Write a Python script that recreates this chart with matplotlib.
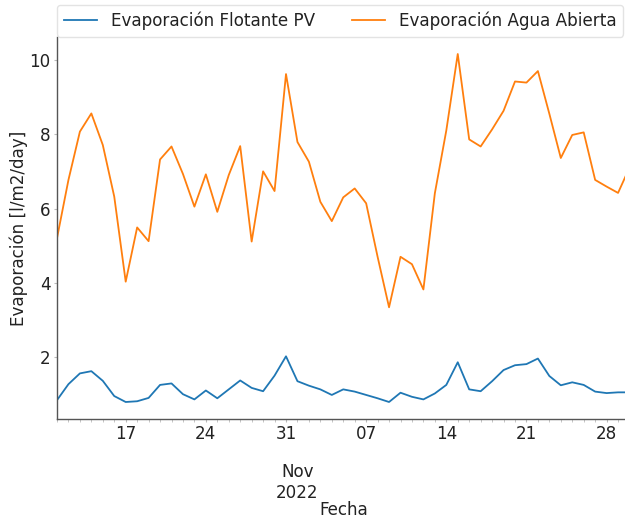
import matplotlib
matplotlib.use("Agg")
import matplotlib.pyplot as plt
import pandas as pd

fechas = pd.date_range("2022-10-11", "2022-11-30", freq="D")

evap_flotante = [0.84, 1.27, 1.56, 1.62, 1.36, 0.95, 0.79, 0.81, 0.90, 1.25, 1.29,
                 1.00, 0.86, 1.10, 0.89, 1.13, 1.37, 1.17, 1.08, 1.50, 2.02,
                 1.35, 1.23, 1.13, 0.98, 1.13, 1.07, 0.98, 0.89, 0.79, 1.04,
                 0.93, 0.86, 1.02, 1.25, 1.86, 1.13, 1.08, 1.35, 1.65, 1.78,
                 1.81, 1.96, 1.49, 1.24, 1.32, 1.25, 1.07, 1.03, 1.05, 1.05]

evap_abierta = [5.20, 6.77, 8.07, 8.56, 7.71, 6.32, 4.03, 5.49, 5.12, 7.32, 7.67,
                6.93, 6.05, 6.92, 5.91, 6.90, 7.68, 5.11, 7.00, 6.47, 9.62,
                7.79, 7.26, 6.18, 5.66, 6.30, 6.54, 6.14, 4.70, 3.34, 4.70,
                4.50, 3.82, 6.41, 8.10, 10.16, 7.86, 7.67, 8.13, 8.63, 9.42,
                9.39, 9.70, 8.55, 7.36, 7.98, 8.05, 6.77, 6.59, 6.42, 7.10]

series_labels = ["Evaporación Flotante PV", "Evaporación Agua Abierta"]
month_label_date = pd.Timestamp("2022-11-01")

FS = 12.1
plt.rcParams["font.family"] = ["DejaVu Sans"]
fig = plt.figure(figsize=(6.25, 5.19), dpi=100)
W, H = 625, 519
ax = fig.add_axes([57 / W, 99.6 / H, (629.5 - 57) / W, 382.8 / H])

ax.plot(fechas, evap_flotante, color="#1f77b4", lw=1.3, label=series_labels[0])
ax.plot(fechas, evap_abierta, color="#ff7f0e", lw=1.3, label=series_labels[1])

ax.set_xlim(fechas[0], fechas[-1])
ax.margins(y=0.05)

# x ticks: weekly (Mondays) major labels with day; daily minor ticks, month label on minor
mondays = [d for d in fechas if d.weekday() == 0]
ax.set_xticks(mondays)
ax.set_xticklabels([d.strftime("%d") for d in mondays])
ax.set_xticks(list(fechas), minor=True)
minor_labels = [(d.strftime("%b") + "\n" + d.strftime("%Y")) if d == month_label_date else ""
                for d in fechas]
ax.set_xticklabels(minor_labels, minor=True)

ax.set_yticks([2, 4, 6, 8, 10])

ax.tick_params(axis="both", which="major", labelsize=FS, length=2.5, color="#bbbbbb",
               labelcolor="#222222", pad=1.2)
ax.tick_params(axis="y", which="major", pad=2)
ax.tick_params(axis="x", which="minor", length=1.8, color="#bbbbbb",
               labelsize=FS, labelcolor="#222222", pad=29.5)

for s in ["top", "right"]:
    ax.spines[s].set_visible(False)
for s in ["left", "bottom"]:
    ax.spines[s].set_color("#555555")
    ax.spines[s].set_linewidth(1.0)

ax.set_ylabel("Evaporación [l/m2/day]", fontsize=FS, color="#222222")
ax.yaxis.set_label_coords((28 - 57) / 572.5, 0.5)
ax.set_xlabel("Fecha", fontsize=FS, color="#222222")
ax.xaxis.set_label_coords(0.5, -(510 - 419.4) / 382.8)
ax.xaxis.label.set_va("center")

leg = ax.legend(loc="lower left", bbox_to_anchor=(0, 1.0), ncol=2, fontsize=FS,
                borderaxespad=0.0, frameon=True, columnspacing=2.2,
                handlelength=2.0)
leg.get_frame().set_edgecolor("#dddddd")
for t in leg.get_texts():
    t.set_color("#222222")

fig.savefig("out.png", dpi=100)
